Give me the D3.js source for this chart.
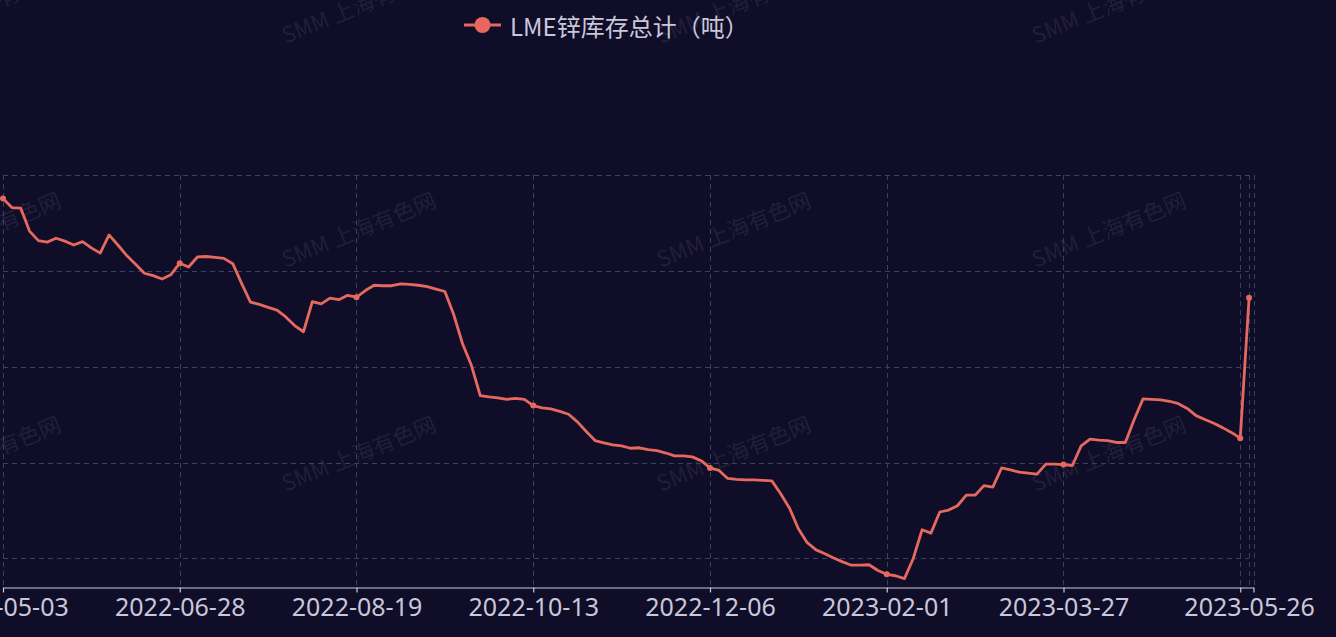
<!DOCTYPE html>
<html><head><meta charset="utf-8">
<script src="https://cdn.jsdelivr.net/npm/d3@7"></script>
<style>html,body{margin:0;padding:0;background:#100d28;overflow:hidden}</style>
</head><body><svg id="c" width="1336" height="637"></svg>
<script>
// ---- data ----
const seriesName = "LME锌库存总计（吨）";
const xLabels = ["2022-05-03","2022-06-28","2022-08-19","2022-10-13","2022-12-06","2023-02-01","2023-03-27"];
const lastLabel = "2023-05-26";
const labelStep = 20;
const yTicks = [20000, 40000, 60000, 80000, 100000];
const stock = [
 95100, 93200, 93100, 88300, 86300, 86000, 86800, 86200, 85400, 86100,
 84800, 83700, 87500, 85400, 83200, 81400, 79500, 79000, 78300, 79200,
 81600, 80800, 82900, 83000, 82800, 82600, 81500, 77400, 73500, 73000,
 72400, 71800, 70400, 68600, 67300, 73600, 73100, 74300, 74000, 74900,
 74500, 75900, 77000, 76900, 76900, 77300, 77200, 77000, 76700, 76200,
 75700, 70900, 64800, 60300, 54000, 53700, 53500, 53200, 53400, 53200,
 51900, 51400, 51200, 50700, 50100, 48500, 46500, 44600, 44100, 43700,
 43500, 43000, 43100, 42700, 42500, 42000, 41400, 41400, 41200, 40400,
 38900, 38400, 36700, 36500, 36400, 36400, 36300, 36200, 33500, 30500,
 26200, 23300, 21800, 21000, 20100, 19300, 18600, 18600, 18700, 17500,
 16700, 16400, 15800, 20000, 26000, 25300, 29700, 30100, 31000, 33200,
 33200, 35200, 34900, 38900, 38500, 38000, 37800, 37600, 39700, 39700,
 39600, 39400, 43500, 44900, 44700, 44600, 44200, 44200, 49000, 53300,
 53200, 53100, 52800, 52300, 51300, 49800, 49000, 48200, 47300, 46300,
 45100, 74400
];

// ---- drawing ----
const W = 1336, H = 637;
const bg = "#100d28", lineColor = "#e5695e", gridColor = "#34435f", axisColor = "#c9c7db";
const svg = d3.select("#c");
svg.append("rect").attr("width", W).attr("height", H).attr("fill", bg);

const lastIdx = stock.length - 1;
const endIdx = stock.length - 0.5;
const x = d3.scaleLinear().domain([0, endIdx]).range([3, 1253.5]);
const y = d3.scaleLinear().domain([13950, 100000]).range([587.5, 175]);
const labelIdx = xLabels.map((d, i) => i * labelStep);
const intervalIdx = d3.range(0, lastIdx, labelStep);
const crisp = v => Math.round(v) + 0.5;

// watermark (behind the chart)
const wmCols = [-17, 358, 733, 1108], wmRows = [4, 228, 452];
const wm = svg.append("g").attr("pointer-events", "none");
wmRows.forEach(cy => wmCols.forEach(cx => {
  wm.append("text").attr("transform", `translate(${cx},${cy}) rotate(-22)`)
    .attr("text-anchor", "middle").attr("dominant-baseline", "central")
    .attr("fill", "rgba(200,200,225,0.11)")
    .style("font-family", "'Noto Sans CJK SC','Noto Sans',sans-serif").style("font-size", "22px")
    .text("SMM 上海有色网");
}));

// grid
const grid = svg.append("g");
grid.selectAll("line.h").data(yTicks).join("line").attr("class", "h")
  .attr("x1", x(0)).attr("x2", x(lastIdx))
  .attr("y1", d => crisp(y(d))).attr("y2", d => crisp(y(d)))
  .attr("stroke", gridColor).attr("stroke-width", 1).attr("stroke-dasharray", "5,4");
grid.selectAll("line.v").data([...intervalIdx, lastIdx, endIdx]).join("line").attr("class", "v")
  .attr("x1", d => crisp(x(d))).attr("x2", d => crisp(x(d)))
  .attr("y1", y(100000)).attr("y2", 587)
  .attr("stroke", gridColor).attr("stroke-width", 1).attr("stroke-dasharray", "5,4");

// x axis
const tickVals = [...intervalIdx, lastIdx, endIdx];
const fmt = d => {
  if (d === lastIdx) return lastLabel;
  const k = labelIdx.indexOf(d);
  return k >= 0 ? xLabels[k] : "";
};
const ax = svg.append("g").attr("transform", "translate(0,587.5)")
  .call(d3.axisBottom(x).tickValues(tickVals).tickFormat(fmt).tickSize(5).tickSizeOuter(0).tickPadding(6));
ax.select(".domain").attr("stroke", axisColor).attr("stroke-width", 1.2);
ax.selectAll(".tick line").attr("stroke", axisColor).attr("stroke-width", 1.2);
ax.selectAll(".tick").filter(d => d === lastIdx).select("line").remove();
ax.selectAll(".tick text").attr("fill", axisColor)
  .style("font-family", "'Noto Sans','Open Sans','Noto Sans CJK SC',sans-serif").style("font-size", "25px");

// line
const line = d3.line().x((d, i) => x(i)).y(d => y(d));
svg.append("path").datum(stock).attr("d", line)
  .attr("fill", "none").attr("stroke", lineColor).attr("stroke-width", 2.8)
  .attr("stroke-linejoin", "round").attr("stroke-linecap", "round");
const symIdx = [...intervalIdx, lastIdx];
svg.selectAll("circle.sym").data(symIdx).join("circle").attr("class", "sym")
  .attr("cx", d => x(d)).attr("cy", d => y(stock[d])).attr("r", 3)
  .attr("fill", lineColor);

// legend
const lg = svg.append("g");
lg.append("line").attr("x1", 464).attr("x2", 501).attr("y1", 25).attr("y2", 25)
  .attr("stroke", lineColor).attr("stroke-width", 3);
lg.append("circle").attr("cx", 482.5).attr("cy", 25).attr("r", 8).attr("fill", lineColor);
lg.append("text").attr("x", 510).attr("y", 25).attr("dominant-baseline", "central")
  .attr("fill", axisColor)
  .style("font-family", "'Noto Sans CJK SC','Noto Sans',sans-serif").style("font-size", "24px")
  .text(seriesName);
</script>
</body></html>
